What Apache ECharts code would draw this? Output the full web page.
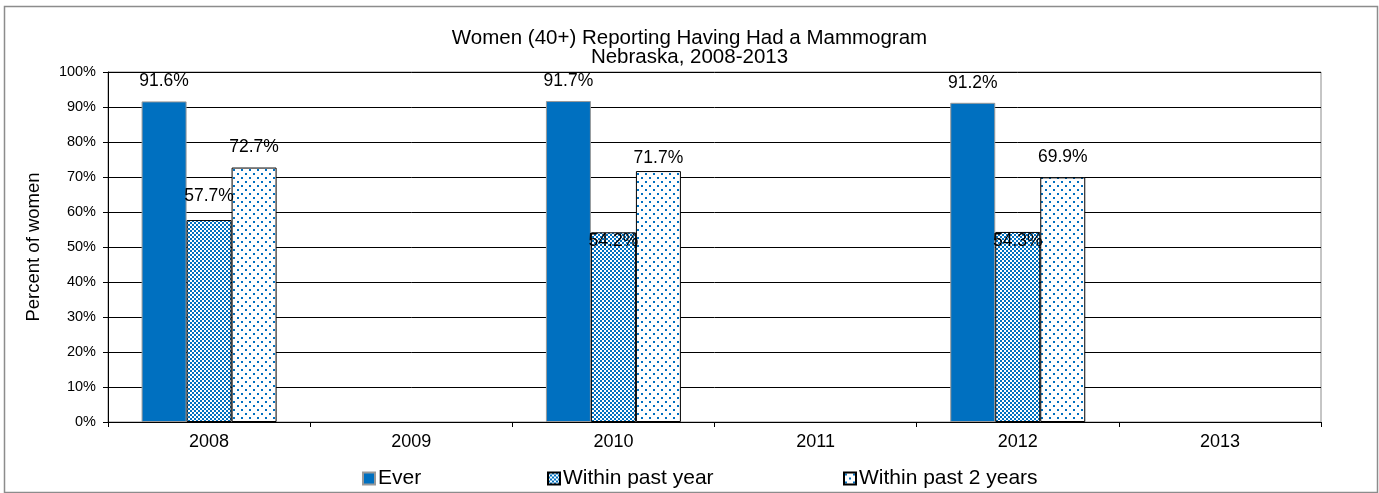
<!DOCTYPE html>
<html>
<head>
<meta charset="utf-8">
<script src="https://cdn.jsdelivr.net/npm/echarts@6/dist/echarts.min.js"></script>
<style>
  html, body { margin: 0; padding: 0; background: #fff; }
  #myChart { width: 1379px; height: 493px; }
</style>
</head>
<body>
<div id="myChart"></div>
<script>
// 数据
const categories = ['2008', '2009', '2010', '2011', '2012', '2013']
const everValues = [91.6, null, 91.7, null, 91.2, null]
const pastYearValues = [57.7, null, 54.2, null, 54.3, null]
const past2YearsValues = [72.7, null, 71.7, null, 69.9, null]
const seriesNames = ['Ever', 'Within past year', 'Within past 2 years']

const BLUE = '#0070C0'
const FONT = 'Liberation Sans, Arial, sans-serif'

/* 棋盘格填充 */
function checkerPattern() {
  const c = document.createElement('canvas')
  c.width = 4
  c.height = 4
  const ctx = c.getContext('2d')
  ctx.fillStyle = '#fff'
  ctx.fillRect(0, 0, 4, 4)
  ctx.fillStyle = BLUE
  ctx.fillRect(0, 0, 2, 2)
  ctx.fillRect(2, 2, 2, 2)
  return { image: c, repeat: 'repeat' }
}

/* 点状填充 */
function dotPattern() {
  const c = document.createElement('canvas')
  c.width = 8
  c.height = 8
  const ctx = c.getContext('2d')
  ctx.fillStyle = '#fff'
  ctx.fillRect(0, 0, 8, 8)
  ctx.fillStyle = BLUE
  ctx.fillRect(1, 1, 2, 2)
  ctx.fillRect(5, 5, 2, 2)
  return { image: c, repeat: 'repeat' }
}

const labelStyle = {
  show: true,
  position: 'top',
  distance: 11,
  color: '#000',
  fontSize: 17.5,
  fontFamily: FONT,
  formatter: (p) => p.value.toFixed(1) + '%',
}

// 手动挪动的标签（参照原图）
function withOffsets(values, offsets) {
  return values.map((v, i) =>
    offsets[i] ? { value: v, label: { offset: [0, offsets[i]] } } : v
  )
}

function legendAt(name, left) {
  return {
    data: [name],
    left: left,
    top: 468,
    padding: 0,
    icon: 'rect',
    itemWidth: 12,
    itemHeight: 12,
    itemGap: 5,
    textStyle: { color: '#000', fontSize: 21, fontFamily: FONT, padding: [0, 0, 0, -2] },
  }
}

const myChart = echarts.init(document.getElementById('myChart'))
const option = {
  backgroundColor: '#fff',
  animation: false,
  title: {
    text: 'Women (40+) Reporting Having Had a Mammogram\nNebraska, 2008-2013',
    left: 'center',
    top: 24,
    textStyle: {
      color: '#000',
      fontSize: 20.5,
      fontWeight: 'normal',
      fontFamily: FONT,
      lineHeight: 19,
    },
  },
  legend: [
    legendAt(seriesNames[0], 362),
    legendAt(seriesNames[1], 547),
    legendAt(seriesNames[2], 843),
  ],
  grid: {
    left: 108,
    right: 58,
    top: 72,
    bottom: 71,
    show: true,
    borderColor: '#8c8c8c',
    borderWidth: 1,
  },
  graphic: [
    {
      type: 'rect',
      shape: { x: 4.5, y: 6.5, width: 1373, height: 486 },
      style: { fill: 'none', stroke: '#8c8c8c', lineWidth: 1.5 },
      silent: true,
    },
  ],
  xAxis: {
    type: 'category',
    data: categories,
    axisLine: { lineStyle: { color: '#000', width: 1 } },
    axisTick: { show: true, interval: 0, length: 5, lineStyle: { color: '#000' } },
    axisLabel: { color: '#000', fontSize: 18, fontFamily: FONT, margin: 11 },
    splitLine: { show: false },
  },
  yAxis: {
    type: 'value',
    min: 0,
    max: 100,
    interval: 10,
    name: 'Percent of women',
    nameLocation: 'middle',
    nameGap: 65,
    nameTextStyle: { color: '#000', fontSize: 18.5, fontFamily: FONT },
    axisLine: { show: true, lineStyle: { color: '#000', width: 1 } },
    axisTick: { show: true, length: 5, lineStyle: { color: '#000' } },
    axisLabel: {
      color: '#000',
      fontSize: 14.5,
      fontFamily: FONT,
      margin: 12,
      formatter: '{value}%',
    },
    splitLine: { show: true, lineStyle: { color: '#000', width: 1 } },
  },
  series: [
    {
      name: seriesNames[0],
      type: 'bar',
      data: everValues,
      barWidth: 45,
      barGap: '0%',
      itemStyle: { color: BLUE, borderColor: '#999', borderWidth: 1 },
      label: labelStyle,
    },
    {
      name: seriesNames[1],
      type: 'bar',
      data: withOffsets(pastYearValues, [-4, 0, 29, 0, 29, 0]),
      barWidth: 45,
      barGap: '0%',
      itemStyle: { color: checkerPattern(), borderColor: '#000', borderWidth: 1 },
      label: labelStyle,
    },
    {
      name: seriesNames[2],
      type: 'bar',
      data: withOffsets(past2YearsValues, [0, 0, 7, 0, 0, 0]),
      barWidth: 45,
      barGap: '0%',
      itemStyle: { color: dotPattern(), borderColor: '#000', borderWidth: 1 },
      label: labelStyle,
    },
  ],
}
myChart.setOption(option, true)
</script>
</body>
</html>
